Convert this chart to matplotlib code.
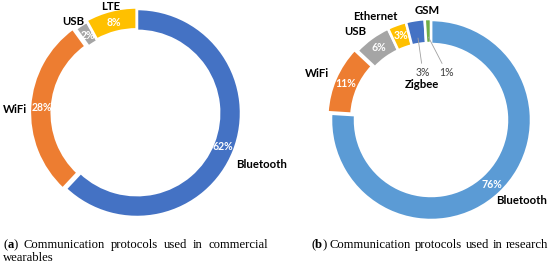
import matplotlib
matplotlib.use("Agg")
import matplotlib.pyplot as plt
import numpy as np

# ---------------- data ----------------
left_labels = ["Bluetooth", "WiFi", "USB", "LTE"]
left_values = [62, 28, 2, 8]
left_colors = ["#4472C4", "#ED7D31", "#A5A5A5", "#FFC000"]

right_labels = ["Bluetooth", "WiFi", "USB", "Ethernet", "Zigbee", "GSM"]
right_values = [76, 11, 6, 3, 3, 1]
right_colors = ["#5B9BD5", "#ED7D31", "#A5A5A5", "#FFC000", "#4472C4", "#70AD47"]

caption_a_tag = "a"
caption_a_line1 = "Communication protocols used in commercial"
caption_a_line2 = "wearables"
caption_b_tag = "b"
caption_b_text = "Communication protocols used in research"

# ---------------- figure ----------------
W, H = 550, 266
fig = plt.figure(figsize=(W / 100, H / 100), dpi=100)
LABEL_FONT = "Lato"
CAP_FONT = "Liberation Serif"


def make_ax(cx, cy, R, hw=1.4, hh=1.2):
    ax = fig.add_axes([(cx - hw * R) / W, (H - cy - hh * R) / H,
                       2 * hw * R / W, 2 * hh * R / H])
    return ax, (hw, hh)


def pct_fmt(p):
    return f"{p:.0f}%"


def draw_donut(ax, lims, values, labels, colors, width, explode, hide_pct=()):
    wedges, texts, autotexts = ax.pie(
        values, labels=labels, colors=colors, startangle=90, counterclock=False,
        explode=explode, labeldistance=1.09, autopct=pct_fmt, pctdistance=0.885,
        wedgeprops=dict(width=width, edgecolor="white", linewidth=1.8),
        textprops=dict(fontsize=8.2, fontweight="bold", family=LABEL_FONT, color="black"))
    for t in autotexts:
        t.set_color("white")
        t.set_fontsize(7.6)
    for i in hide_pct:
        autotexts[i].set_visible(False)
    hw, hh = lims
    ax.set_xlim(-hw, hw)
    ax.set_ylim(-hh, hh)
    ax.set_aspect("equal", adjustable="box")
    ax.axis("off")
    return wedges, texts, autotexts


def nudge(t, dx, dy):
    x, y = t.get_position()
    t.set_position((x + dx, y + dy))


# left donut
axL, limL = make_ax(137, 113, 104)
wL, tL, aL = draw_donut(axL, limL, left_values, left_labels, left_colors, 0.21,
                        [0, 0.03, 0, 0.015])
tL[3].set_ha("center")
nudge(tL[0], -0.06, -0.09)
nudge(tL[1], 0.06, -0.04)
nudge(tL[2], 0.08, -0.04)
nudge(tL[3], 0.02, -0.05)

# right donut
axR, limR = make_ax(431, 120, 100)
wR, tR, aR = draw_donut(axR, limR, right_values, right_labels, right_colors, 0.24,
                        [0, 0.04, 0.01, 0.01, 0.01, 0.01], hide_pct=(4, 5))
tR[5].set_ha("center")
nudge(tR[0], -0.09, -0.01)
nudge(tR[1], 0.02, 0.02)
nudge(tR[3], 0.04, 0.0)
# Zigbee label inside the hole
tR[4].set_position((-0.09, 0.36))
tR[4].set_ha("center")
tR[4].set_va("center")

# leader-line labels for small slices
small = [(4, (-0.08, 0.47), "center"), (5, (0.16, 0.47), "center")]
for idx, txy, ha in small:
    w = wR[idx]
    th = np.deg2rad((w.theta1 + w.theta2) / 2)
    r = 0.82
    xy = (r * np.cos(th) + w.center[0], r * np.sin(th) + w.center[1])
    axR.annotate(pct_fmt(right_values[idx] / sum(right_values) * 100), xy=xy, xytext=txy,
                 ha=ha, va="center", fontsize=7.6, family=LABEL_FONT, color="#404040",
                 arrowprops=dict(arrowstyle="-", color="#A0A0A0", lw=0.6,
                                 shrinkA=1, shrinkB=0))

# ---------------- captions ----------------
renderer = fig.canvas.get_renderer()


def build(words, size):
    items = []
    for word in words:
        parts = []
        for s, wt in word:
            t = fig.text(0, 0, s, fontsize=size, fontweight=wt, family=CAP_FONT,
                         ha="left", va="baseline", transform=None)
            parts.append(t)
        items.append(parts)
    widths = [[p.get_window_extent(renderer).width for p in parts] for parts in items]
    return items, widths


def natural_width(words, size):
    items, widths = build(words, size)
    tot = sum(sum(ws) for ws in widths) + (len(items) - 1) * size * 0.3 * 100 / 72
    for parts in items:
        for p in parts:
            p.remove()
    return tot


def place_line(words, x0, y_base, size, x1=None):
    items, widths = build(words, size)
    tot = sum(sum(ws) for ws in widths)
    if x1 is not None and len(items) > 1:
        gap = (x1 - x0 - tot) / (len(items) - 1)
    else:
        gap = size * 0.3 * 100 / 72
    x = x0
    for parts, ws in zip(items, widths):
        for p, w in zip(parts, ws):
            p.set_position((x, H - y_base))
            x += w
        x += gap


def tag_word(tag):
    return [("(", "normal"), (tag, "bold"), (")", "normal")]


words_a1 = [tag_word(caption_a_tag)] + [[(w, "normal")] for w in caption_a_line1.split()]
words_b = [tag_word(caption_b_tag)] + [[(w, "normal")] for w in caption_b_text.split()]

# font size so that caption (b) fills its span with normal spacing
s0 = 10.0
cap_size = s0 * (548 - 311) / natural_width(words_b, s0)

place_line(words_a1, 3, 248, cap_size, x1=268)
place_line([[(caption_a_line2, "normal")]], 3, 261, cap_size)
place_line(words_b, 311, 248, cap_size, x1=548)

fig.savefig("out.png", dpi=100)
